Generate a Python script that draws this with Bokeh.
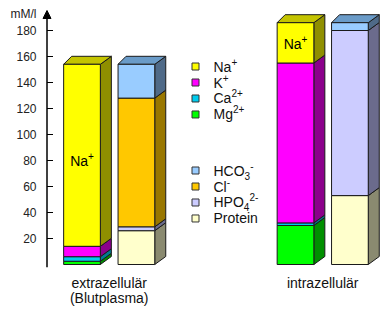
from bokeh.plotting import figure
from bokeh.models import Range1d, LinearAxis, FixedTicker, Arrow, NormalHead, ColumnDataSource
from bokeh.embed import file_html
from bokeh.resources import INLINE
from bokeh.core.properties import value

# ---------------- data ----------------
groups = ["extrazellulär", "intrazellulär"]
group_sub = ["(Blutplasma)", ""]
# ion names split as (base, subscript, superscript); order = top of stack first
cation_names = [("Na", "", "+"), ("K", "", "+"), ("Ca", "", "2+"), ("Mg", "", "2+")]
anion_names = [("HCO", "3", "-"), ("Cl", "", "-"), ("HPO", "4", "2-"), ("Protein", "", "")]
# values in mM/l, ordered as the names above
extra_cations = [140, 8, 3.5, 2.5]
extra_anions = [26, 99, 3, 26]
intra_cations = [31, 123, 2, 30]
intra_anions = [6, 0, 127, 53]
ticks = [20, 40, 60, 80, 100, 120, 140, 160, 180]
unit_label = "mM/l"

# ---------------- styles ----------------
FONT = "Liberation Sans"
cation_front = ["#FFFF00", "#FF00FF", "#00CCEE", "#00FF00"]
cation_side = ["#8F8F00", "#8B008B", "#007A90", "#008F00"]
cation_top = ["#C4C400", "#B000B0", "#009FBB", "#00B800"]
anion_front = ["#99CCFF", "#FFC800", "#CCCCFF", "#FFFFCC"]
anion_side = ["#4F6A88", "#997700", "#6B6B8C", "#8A8A70"]
anion_top = ["#6A9BC8", "#C89C00", "#A0A0D0", "#D0D0A8"]

# Arial / Liberation Sans advance widths (1/1000 em) for composing sub/superscripts
ADV = {"N": 722, "a": 556, "K": 667, "C": 722, "M": 833, "g": 556, "H": 722, "O": 778,
       "P": 667, "l": 222, "r": 333, "o": 556, "t": 278, "e": 556, "i": 222, "n": 556,
       "2": 556, "3": 556, "4": 556, "+": 584, "-": 333}


def tw(s, size):
    return sum(ADV.get(ch, 556) for ch in s) * size / 1000.0


K = 1.3            # pixels per mM/l
Y0PX = 264         # pixel row of zero
W, H = 390, 310
LEFT = 40
y_top = Y0PX / K
y_bot = (Y0PX - H) / K
AXIS_X = 46.5

p = figure(width=W, height=H, x_range=Range1d(LEFT, W), y_range=Range1d(y_bot, y_top),
           output_backend="svg", toolbar_location=None,
           x_axis_location=None, y_axis_location=None,
           min_border_left=LEFT, min_border_right=0, min_border_top=0, min_border_bottom=0)
p.outline_line_color = None
p.grid.visible = False
p.background_fill_color = "white"
p.border_fill_color = "white"

unit_pos = (Y0PX - 13) / K
ax = LinearAxis(ticker=FixedTicker(ticks=ticks + [unit_pos]), axis_line_color=None,
                major_tick_line_color=None, minor_tick_line_color=None,
                major_tick_in=0, major_tick_out=0,
                major_label_standoff=4, major_label_text_font=FONT,
                major_label_text_font_size="12px", major_label_text_color="#222222",
                major_label_overrides={unit_pos: unit_label})
p.add_layout(ax, "left")

# axis line with arrow head, and tick marks on the inner side
arrow = Arrow(end=NormalHead(size=8, fill_color="black", line_color="black"),
              x_start=AXIS_X, y_start=-2.2, x_end=AXIS_X, y_end=(Y0PX - 10) / K,
              line_width=1.5, line_color="black")
p.add_layout(arrow)
p.segment(x0=[AXIS_X] * len(ticks), x1=[AXIS_X + 6] * len(ticks), y0=ticks, y1=ticks,
          line_color="black", line_width=1)

# ---------------- bars ----------------
group_centers = [108.7, 322.2]
bar_w = 36.7
bar_gap = 17.7
dx_r, dx_l = 11, 8          # depth offset (pixels) right / left of top face
dz = 8 / K                   # depth offset in value units

fronts = dict(left=[], right=[], bottom=[], top=[], color=[])
polys = dict(xs=[], ys=[], color=[])


def add_bar(x0, vals, front, side, topc):
    x1 = x0 + bar_w
    base = 0.0
    last = None
    for i in range(len(vals) - 1, -1, -1):
        v = vals[i]
        if v <= 0:
            continue
        b, t = base, base + v
        fronts["left"].append(x0); fronts["right"].append(x1)
        fronts["bottom"].append(b); fronts["top"].append(t)
        fronts["color"].append(front[i])
        polys["xs"].append([x1, x1 + dx_r, x1 + dx_r, x1])
        polys["ys"].append([b, b + dz, t + dz, t])
        polys["color"].append(side[i])
        base = t
        last = i
    polys["xs"].append([x0, x0 + dx_l, x1 + dx_r, x1])
    polys["ys"].append([base, base + dz, base + dz, base])
    polys["color"].append(topc[last])


cat_sets = [extra_cations, intra_cations]
an_sets = [extra_anions, intra_anions]
na_x, na_y = [], []
for g, c in enumerate(group_centers):
    xl = c - bar_gap / 2 - bar_w
    xr = c + bar_gap / 2
    add_bar(xl, cat_sets[g], cation_front, cation_side, cation_top)
    add_bar(xr, an_sets[g], anion_front, anion_side, anion_top)
    vals = cat_sets[g]
    na_x.append(xl + bar_w / 2)
    na_y.append(sum(vals[1:]) + vals[0] * 0.47)

p.patches("xs", "ys", source=ColumnDataSource(polys), fill_color="color",
          line_color="#1a1a1a", line_width=1)
p.quad(left="left", right="right", bottom="bottom", top="top", source=ColumnDataSource(fronts),
       fill_color="color", line_color="#1a1a1a", line_width=1)


# ---------------- chemical labels with sub/superscripts ----------------
def chem(xs, ys, parts, size=14, small=10, color="#111111", center=False):
    for x, y, (base, sub, sup) in zip(xs, ys, parts):
        wb = tw(base, size)
        ws = tw(sub, small)
        wsp = tw(sup, small)
        total = wb + max(ws, 0) + wsp
        off = -total / 2 if center else 0
        p.text(x=[x], y=[y], text=[base], x_offset=off, text_font=value(FONT),
               text_font_size=f"{size}px", text_color=color, text_baseline="middle")
        if sub:
            p.text(x=[x], y=[y], text=[sub], x_offset=off + wb, y_offset=5, text_font=value(FONT),
                   text_font_size=f"{small}px", text_color=color, text_baseline="middle")
        if sup:
            p.text(x=[x], y=[y], text=[sup], x_offset=off + wb + ws, y_offset=-5,
                   text_font=value(FONT), text_font_size=f"{small}px", text_color=color,
                   text_baseline="middle")


chem(na_x, na_y, [cation_names[0]] * 2, color="black", center=True)

# category labels
p.text(x=group_centers, y=[-14, -14], text=groups, text_font=value(FONT),
       text_font_size="14px", text_color="#111111", text_align="center", text_baseline="middle")
p.text(x=[group_centers[0]], y=[-25.5], text=[group_sub[0]], text_font=value(FONT),
       text_font_size="14px", text_color="#111111", text_align="center", text_baseline="middle")

# ---------------- legend ----------------
leg_x = 195
txt_x = 213
cat_rows = [152.3, 140.0, 127.7, 115.4]
an_rows = [72.3, 60.0, 47.7, 35.4]
p.scatter(x=[leg_x] * 4, y=cat_rows, marker="square", size=7, fill_color=cation_front,
          line_color="#333333", line_width=1)
p.scatter(x=[leg_x] * 4, y=an_rows, marker="square", size=7, fill_color=anion_front,
          line_color="#333333", line_width=1)
chem([txt_x] * 4, cat_rows, cation_names)
chem([txt_x] * 4, an_rows, anion_names)

open("out.html", "w").write(file_html(p, INLINE))
